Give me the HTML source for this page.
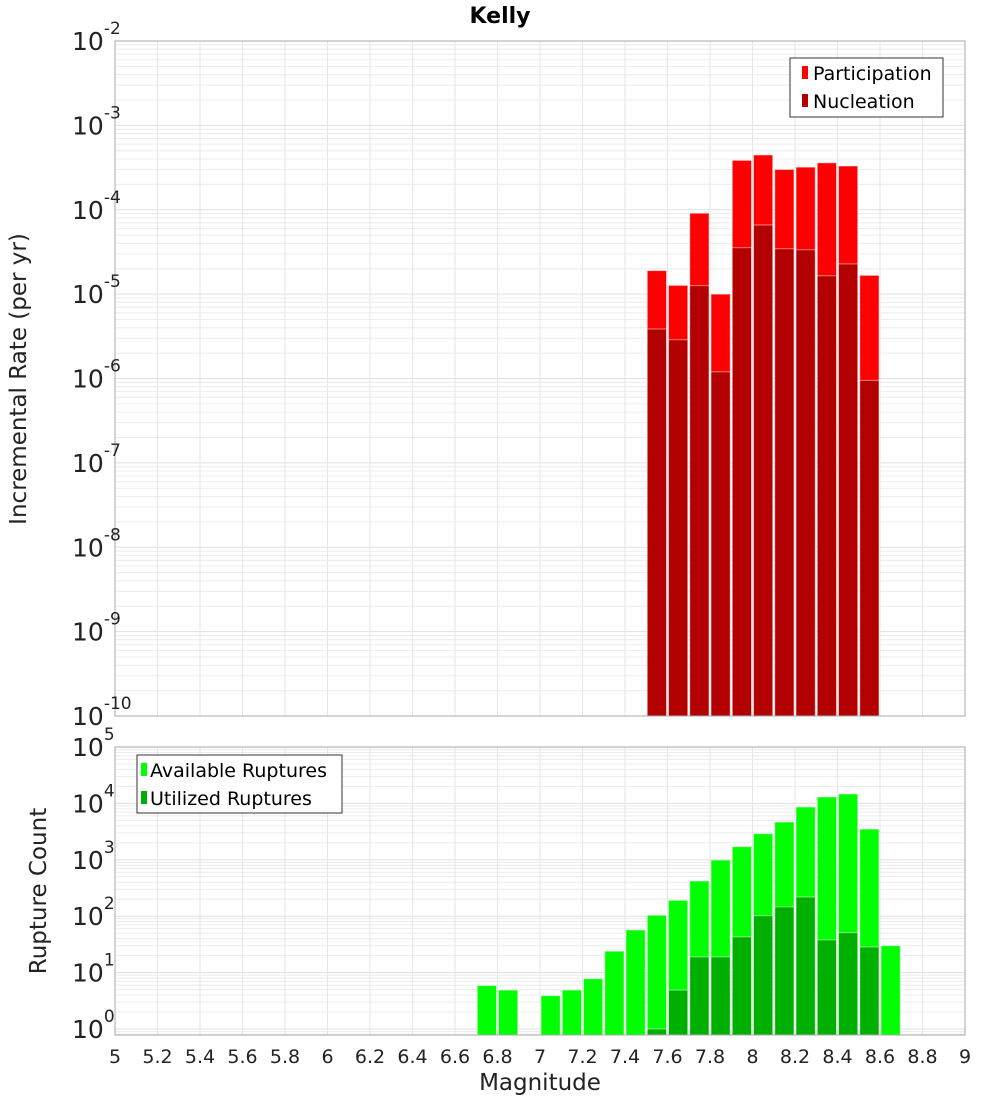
<!DOCTYPE html>
<html><head><meta charset="utf-8"><style>
body{margin:0;background:#fff;width:1000px;height:1100px;overflow:hidden}
svg{font-family:"DejaVu Sans","Liberation Sans",sans-serif}
</style></head><body>
<svg id="c" width="1000" height="1100"></svg>
<script>
const bins=[7.5,7.6,7.7,7.8,7.9,8.0,8.1,8.2,8.3,8.4,8.5];
const participation=[1.9e-5,1.27e-5,9.1e-5,1.0e-5,3.85e-4,4.46e-4,3.0e-4,3.2e-4,3.6e-4,3.3e-4,1.67e-5];
const nucleation=[3.86e-6,2.88e-6,1.26e-5,1.2e-6,3.55e-5,6.6e-5,3.45e-5,3.36e-5,1.65e-5,2.28e-5,9.5e-7];
const countBins=[6.7,6.8,7.0,7.1,7.2,7.3,7.4,7.5,7.6,7.7,7.8,7.9,8.0,8.1,8.2,8.3,8.4,8.5,8.6];
const available=[5.9,4.9,3.9,4.9,7.8,24,57,104,191,421,990,1710,2900,4680,8630,13000,14700,3500,30];
const utilized=[0,0,0,0,0,0,0,1.0,4.9,19,19,43,102,146,219,38,51,28.5,0];
const xTicks=[5,5.2,5.4,5.6,5.8,6,6.2,6.4,6.6,6.8,7,7.2,7.4,7.6,7.8,8,8.2,8.4,8.6,8.8,9];
const topExp=[-2,-3,-4,-5,-6,-7,-8,-9,-10];
const botExp=[5,4,3,2,1,0];
const NS="http://www.w3.org/2000/svg",svg=document.getElementById('c');
function mk(t,a,p){const e=document.createElementNS(NS,t);for(const k in a)e.setAttribute(k,a[k]);(p||svg).appendChild(e);return e;}
const X0=115,X1=965;
const x=v=>X0+(v-5)/4*(X1-X0);
const yTop=v=>41+(-2-Math.log10(v))*84.375;
const yBot=v=>747+(5-Math.log10(v))*56.4;
function grid(top,bot,fn,eMin,eMax){
  const g=mk('g',{});
  
  
  for(let e=eMin;e<eMax;e++)for(let m=1;m<10;m++){const yy=fn(m*Math.pow(10,e));if(yy<top||yy>bot)continue;
    mk('line',{x1:X0,x2:X1,y1:yy,y2:yy,stroke:m==1?'#e0e0e0':'#ececec','stroke-width':1},g);}
  xTicks.forEach(t=>mk('line',{x1:x(t),x2:x(t),y1:top,y2:bot,stroke:'#e6e6e6','stroke-width':1},g));
}
grid(41,716,yTop,-10,-2);grid(747,1035,yBot,-1,5);
function bars(bs,vals,fn,base,color,name){
  bs.forEach((b,i)=>{if(!vals[i])return;const yy=fn(vals[i]);
    const r=mk('rect',{x:x(b)+1,y:yy,width:x(b+0.1)-x(b)-2,height:base-yy,fill:color,stroke:'#fff','stroke-opacity':0.5,'stroke-width':1});
    
    });
}
bars(bins,participation,yTop,716,'#ff0000','participation-bar');
bars(bins,nucleation,yTop,716,'#b30000','nucleation-bar');
bars(countBins,available,yBot,1035,'#00ff00','available-bar');
bars(countBins,utilized,yBot,1035,'#00b000','utilized-bar');
mk('rect',{x:X0,y:41,width:X1-X0,height:675,fill:'none',stroke:'#aaa'});
mk('rect',{x:X0,y:747,width:X1-X0,height:288,fill:'none',stroke:'#aaa'});
function ylab(e,yy){const t=mk('text',{x:72,y:yy+9,'font-size':25,fill:'#222'});t.textContent='10';
  const s=mk('tspan',{dy:-16,'font-size':17});s.textContent=e;t.appendChild(s);
  
  }
topExp.forEach(e=>ylab(e,yTop(Math.pow(10,e))));
botExp.forEach(e=>ylab(e,yBot(Math.pow(10,e))));
xTicks.forEach(t=>{const e=mk('text',{x:x(t),y:1063,'font-size':19,'text-anchor':'middle',fill:'#222'});e.textContent=String(t);
  
  });
</script>
<svg width="1000" height="1100" style="position:absolute;left:0;top:0">
<text x="500" y="23" font-size="22" font-weight="bold" text-anchor="middle" font-family="DejaVu Sans,sans-serif">Kelly</text>
<text transform="translate(26,379) rotate(-90)" font-size="23" text-anchor="middle" fill="#222" font-family="DejaVu Sans,sans-serif">Incremental Rate (per yr)</text>
<text transform="translate(46,891) rotate(-90)" font-size="23" text-anchor="middle" fill="#222" font-family="DejaVu Sans,sans-serif">Rupture Count</text>
<text x="540" y="1090" font-size="23" text-anchor="middle" fill="#222" font-family="DejaVu Sans,sans-serif">Magnitude</text>
<g font-family="DejaVu Sans,sans-serif" font-size="19">
<rect x="790" y="58" width="153" height="59" fill="#fff" stroke="#333"/>
<rect x="802" y="66" width="6" height="13" fill="#ff0000"/><text x="813" y="80">Participation</text>
<rect x="802" y="94" width="6" height="13" fill="#b30000"/><text x="813" y="108">Nucleation</text>
</g>
<g font-family="DejaVu Sans,sans-serif" font-size="19">
<rect x="137" y="755" width="205" height="58" fill="#fff" stroke="#333"/>
<rect x="141" y="763" width="6" height="13" fill="#00ff00"/><text x="150" y="777">Available Ruptures</text>
<rect x="141" y="791" width="6" height="13" fill="#00b000"/><text x="150" y="805">Utilized Ruptures</text>
</g>
</svg>
</body></html>
